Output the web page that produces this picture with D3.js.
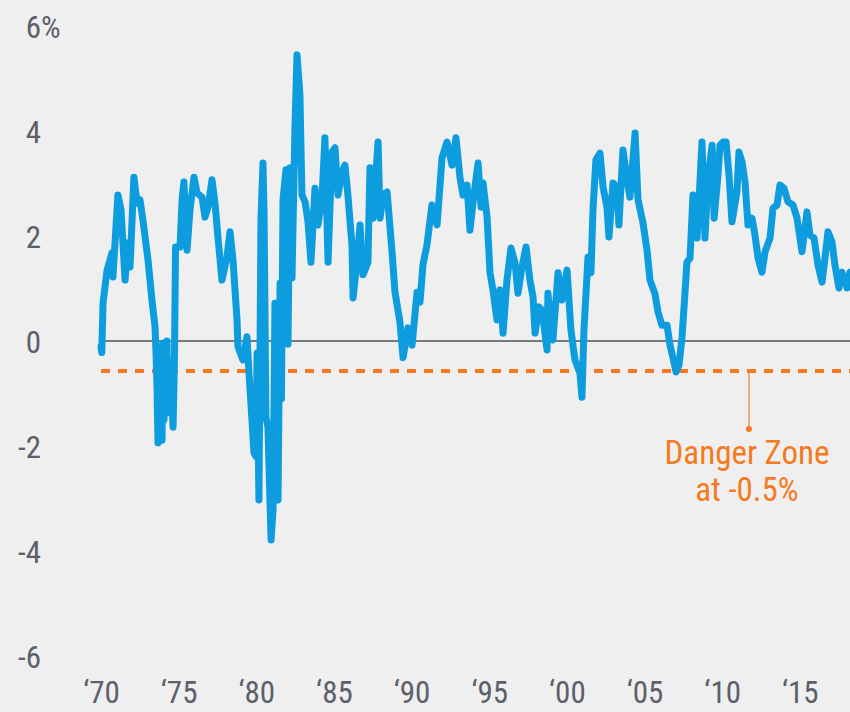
<!DOCTYPE html>
<html>
<head>
<meta charset="utf-8">
<script src="https://cdn.jsdelivr.net/npm/d3@7"></script>
<style>
  html, body { margin: 0; padding: 0; background: #efefef; }
  svg { display: block; }
  .lbl { font-family: "Liberation Sans Narrow", "Roboto Condensed", "Arial Narrow", "DejaVu Sans Condensed", sans-serif; }
</style>
</head>
<body>
<svg id="chart" width="850" height="712"></svg>
<script>
// decimal year of each reading
let years = [
  1970.00, 1970.05, 1970.13, 1970.39, 1970.71, 1970.77, 1971.09, 1971.29, 1971.55, 1971.74,
  1971.87, 1972.12, 1972.32, 1972.51, 1972.70, 1973.03, 1973.28, 1973.48, 1973.54, 1973.61,
  1973.67, 1973.73, 1973.80, 1973.86, 1973.93, 1973.99, 1974.06, 1974.12, 1974.19, 1974.25,
  1974.31, 1974.38, 1974.44, 1974.51, 1974.64, 1974.73, 1974.80, 1975.09, 1975.22,
  1975.34, 1975.54, 1975.73, 1975.99, 1976.18, 1976.50, 1976.70, 1976.89, 1977.15, 1977.34,
  1977.53, 1977.79, 1978.11, 1978.31, 1978.50, 1978.76, 1978.82, 1979.14, 1979.40, 1979.53,
  1979.72, 1979.85, 1979.98, 1980.05, 1980.17, 1980.30, 1980.43, 1980.50, 1980.62, 1980.75,
  1980.95, 1981.08, 1981.20, 1981.40, 1981.53, 1981.62, 1981.72, 1981.91, 1982.04, 1982.17,
  1982.30, 1982.49, 1982.62,
  1982.81, 1982.94, 1983.14, 1983.33, 1983.52, 1983.78, 1983.97, 1984.23, 1984.42, 1984.62,
  1984.87, 1985.07, 1985.26, 1985.52, 1985.71, 1985.90, 1986.16, 1986.23, 1986.48, 1986.68,
  1986.87, 1987.19, 1987.32, 1987.51, 1987.84, 1987.97, 1988.16, 1988.42, 1988.74, 1988.93,
  1989.25, 1989.45, 1989.77, 1990.03, 1990.35, 1990.54, 1990.73, 1990.99, 1991.31, 1991.64,
  1991.96, 1992.28, 1992.60, 1992.86, 1993.12, 1993.31, 1993.57, 1993.76, 1993.95, 1994.28,
  1994.47, 1994.60, 1994.86, 1995.05, 1995.24, 1995.50, 1995.69, 1995.89, 1996.14, 1996.40,
  1996.66, 1996.85, 1997.11, 1997.37, 1997.62, 1997.82, 1997.95, 1998.20, 1998.40, 1998.72,
  1998.78, 1998.98, 1999.10, 1999.43, 1999.68, 2000.01, 2000.26, 2000.52, 2000.84, 2000.97,
  2001.10, 2001.36, 2001.55, 2001.68, 2001.87, 2002.13, 2002.33, 2002.58, 2002.71, 2002.97,
  2003.23, 2003.35, 2003.61, 2003.87, 2004.06, 2004.39, 2004.58, 2004.90, 2005.16, 2005.35,
  2005.67, 2005.87, 2006.12, 2006.45, 2006.64, 2006.83, 2007.03, 2007.22, 2007.41, 2007.54,
  2007.73, 2007.93, 2008.12, 2008.25, 2008.38, 2008.70, 2008.89, 2009.09, 2009.35, 2009.48,
  2009.73, 2009.86, 2010.05, 2010.25, 2010.44, 2010.63, 2010.95, 2011.08, 2011.28, 2011.47,
  2011.66, 2011.92, 2012.11, 2012.31, 2012.56, 2012.76, 2013.08, 2013.27, 2013.53, 2013.72,
  2013.98, 2014.24, 2014.56, 2014.82, 2015.14, 2015.46, 2015.65, 2015.91, 2016.17, 2016.43,
  2016.62, 2016.81, 2017.07, 2017.26, 2017.52, 2017.71, 2018.04, 2018.23
]

// yield curve spread, %
let spread = [
  -0.10, -0.22, 0.72, 1.35, 1.68, 1.22, 2.78, 2.50, 1.16, 1.87,
  1.41, 3.12, 2.63, 2.69, 2.30, 1.54, 0.78, 0.27, -0.20, -0.90,
  -1.94, -0.50, -1.70, -0.10, -1.89, -0.04, -1.50, -0.30, -1.31, 0.00,
  -1.20, -0.40, -1.37, -0.80, -1.64, -0.36, 1.79, 1.79, 2.69,
  3.03, 1.73, 2.50, 3.12, 2.82, 2.74, 2.36, 2.55, 3.07, 2.63,
  1.98, 1.16, 1.60, 2.08, 1.54, 0.40, -0.11, -0.36, 0.08, -0.61,
  -1.50, -2.13, -2.20, -0.23, -3.03, 2.30, 3.39, 2.44, -1.45, -1.64,
  -3.79, -3.22, 0.72, -3.03, 1.10, -1.10, 2.69, 3.26, -0.06, 3.30,
  1.20, 4.06, 5.45,
  4.69, 2.78, 2.65, 2.27, 1.50, 2.91, 2.21, 2.72, 3.87, 1.50,
  3.60, 3.68, 2.78, 3.22, 3.35, 2.78, 1.83, 0.82, 1.50, 2.21,
  1.26, 1.50, 3.30, 2.34, 3.79, 2.34, 2.78, 2.84, 1.70, 0.93,
  0.36, -0.32, 0.25, -0.08, 0.93, 0.74, 1.45, 1.83, 2.59, 2.21,
  3.49, 3.79, 3.35, 3.87, 3.10, 2.78, 2.97, 2.11, 2.63, 3.39,
  2.55, 3.01, 2.36, 1.30, 0.97, 0.40, 0.97, 0.15, 1.16, 1.77,
  1.49, 0.91, 1.41, 1.79, 1.16, 0.84, 0.15, 0.65, 0.59, -0.17,
  0.91, 0.21, 0.02, 1.30, 0.78, 1.35, 0.21, -0.36, -0.61, -1.07,
  0.21, 1.60, 1.30, 2.50, 3.45, 3.58, 2.93, 2.55, 1.98, 3.01,
  2.93, 2.21, 3.64, 3.07, 2.74, 3.96, 2.69, 2.25, 1.73, 1.16,
  0.90, 0.55, 0.30, 0.30, -0.08, -0.32, -0.59, -0.46, 0.06, 0.63,
  1.50, 1.58, 2.78, 2.53, 1.96, 3.79, 1.96, 3.10, 3.73, 2.34,
  3.16, 3.73, 3.79, 3.79, 3.16, 2.27, 2.84, 3.60, 3.41, 3.03,
  2.21, 2.34, 2.02, 1.58, 1.31, 1.70, 1.96, 2.53, 2.59, 2.97,
  2.91, 2.65, 2.59, 2.34, 1.70, 2.46, 2.02, 1.96, 1.45, 1.12,
  1.58, 2.08, 1.89, 1.45, 1.01, 1.31, 1.01, 1.31
]

let yTicks = [-6, -4, -2, 0, 2, 4, 6]
let xTicks = [1970, 1975, 1980, 1985, 1990, 1995, 2000, 2005, 2010, 2015]
let dangerLevel = -0.57
let dangerText = ['Danger Zone', 'at -0.5%']

let blue = '#0d9ddf'
let orange = '#f47a20'
let grey = '#5c6068'

let svg = d3.select('#chart')

let x = d3.scaleLinear().domain([1970, 2018.23]).range([101, 850])
let y = d3.scaleLinear().domain([-6, 6]).range([656, 26])

// y axis labels, digits right aligned, minus hangs left
let yAxis = svg.append('g')
    .attr('class', 'lbl')
    .attr('transform', 'translate(41,0)')
    .call(d3.axisLeft(y).tickValues(yTicks).tickSize(0).tickPadding(0).tickFormat(d => String(d)))
yAxis.select('.domain').remove()
yAxis.selectAll('text')
    .attr('x', 0)
    .attr('dy', '0.36em')
    .attr('fill', grey)
    .style('font-size', '31px')
yAxis.selectAll('.tick')
    .filter(d => d === 6)
    .append('text')
    .attr('x', 0)
    .attr('dy', '0.36em')
    .attr('text-anchor', 'start')
    .attr('fill', grey)
    .style('font-size', '31px')
    .text('%')

// x axis labels
let xAxis = svg.append('g')
    .attr('class', 'lbl')
    .attr('transform', 'translate(0,703)')
    .call(d3.axisBottom(x).tickValues(xTicks).tickSize(0).tickPadding(0)
        .tickFormat(d => '\u2018' + String(d).slice(2)))
xAxis.select('.domain').remove()
xAxis.selectAll('text')
    .attr('y', 0)
    .attr('dy', 0)
    .attr('fill', grey)
    .style('font-size', '31px')

// zero line
svg.append('line')
    .attr('x1', x(1970)).attr('x2', 850)
    .attr('y1', y(0)).attr('y2', y(0))
    .attr('stroke', '#77797c')
    .attr('stroke-width', 2)

// danger line
svg.append('line')
    .attr('x1', x(1970)).attr('x2', 850)
    .attr('y1', y(dangerLevel)).attr('y2', y(dangerLevel))
    .attr('stroke', orange)
    .attr('stroke-width', 4)
    .attr('stroke-dasharray', '9,8')

// callout
let calloutX = 749
svg.append('line')
    .attr('x1', calloutX).attr('x2', calloutX)
    .attr('y1', y(dangerLevel)).attr('y2', 429)
    .attr('stroke', orange)
    .attr('stroke-width', 1.2)
svg.append('circle')
    .attr('cx', calloutX).attr('cy', 429).attr('r', 3)
    .attr('fill', orange)

svg.append('text')
    .attr('class', 'lbl')
    .attr('x', 747)
    .attr('y', 464)
    .attr('text-anchor', 'middle')
    .attr('fill', orange)
    .style('font-size', '33px')
    .selectAll('tspan')
    .data(dangerText)
    .enter().append('tspan')
    .attr('x', 747)
    .attr('dy', (d, i) => i === 0 ? 0 : 37)
    .text(d => d)

// the spread line
let pts = years.map((d, i) => [d, spread[i]])
let line = d3.line()
    .x(d => x(d[0]))
    .y(d => y(d[1]))

svg.append('path')
    .datum(pts)
    .attr('d', line)
    .attr('fill', 'none')
    .attr('stroke', blue)
    .attr('stroke-width', 7)
    .attr('stroke-linejoin', 'round')
    .attr('stroke-linecap', 'round')
</script>
</body>
</html>
